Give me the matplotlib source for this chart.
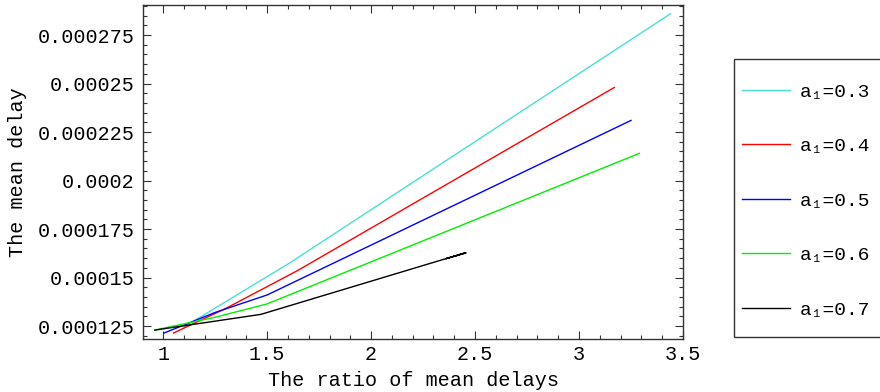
import matplotlib
matplotlib.use("Agg")
import matplotlib.pyplot as plt
from matplotlib.ticker import MultipleLocator, FuncFormatter
from matplotlib.lines import Line2D
from matplotlib.patches import Rectangle

# ratio of mean delays (x) and mean delay (y) for each a1
x_03 = [1.10, 1.61, 3.44]
y_03 = [0.0001245, 0.0001576, 0.000286]
x_04 = [1.05, 1.30, 1.645, 3.17]
y_04 = [0.0001214, 0.0001340, 0.0001535, 0.000248]
x_05 = [1.005, 1.25, 1.50, 3.25]
y_05 = [0.0001214, 0.0001320, 0.0001410, 0.000231]
x_06 = [0.96, 1.25, 1.50, 3.29]
y_06 = [0.0001229, 0.0001295, 0.0001364, 0.000214]
x_07 = [0.96, 1.47, 2.455, 2.36, 2.455]
y_07 = [0.0001229, 0.0001310, 0.0001628, 0.0001597, 0.0001626]

series = [
    (x_03, y_03, "#48e0d2", "a\u2081=0.3"),
    (x_04, y_04, "#ff0000", "a\u2081=0.4"),
    (x_05, y_05, "#0000ff", "a\u2081=0.5"),
    (x_06, y_06, "#00ee00", "a\u2081=0.6"),
    (x_07, y_07, "#000000", "a\u2081=0.7"),
]

mono = ["Liberation Mono", "DejaVu Sans Mono"]
plt.rcParams["font.family"] = mono

fig = plt.figure(figsize=(8.8, 3.92), dpi=100)
ax = fig.add_axes([143 / 880, 1 - 339 / 392, 540 / 880, 334 / 392])

for xs, ys, c, lab in series:
    ax.plot(xs, ys, color=c, linewidth=1.0)

ax.set_xlim(0.903, 3.5)
ax.set_ylim(0.0001183, 0.0002905)

ax.xaxis.set_major_locator(MultipleLocator(0.5))
ax.xaxis.set_minor_locator(MultipleLocator(0.1))
ax.yaxis.set_major_locator(MultipleLocator(0.000025))
ax.yaxis.set_minor_locator(MultipleLocator(0.000005))


def trim(v, pos):
    return f"{v:.6f}".rstrip("0").rstrip(".")


ax.xaxis.set_major_formatter(FuncFormatter(trim))
ax.yaxis.set_major_formatter(FuncFormatter(trim))

ax.tick_params(which="both", direction="in", top=True, right=True,
               labeltop=False, labelright=False, color="#333333", width=0.8)
ax.tick_params(which="major", length=6, labelsize=14.5)
ax.tick_params(axis="x", which="major", pad=4)
ax.tick_params(axis="y", which="major", pad=6)
ax.tick_params(which="minor", length=3)
for spine in ax.spines.values():
    spine.set_color("#333333")
    spine.set_linewidth(1.0)

ax.set_xlabel("The ratio of mean delays", fontsize=14.5, labelpad=5)
ax.set_ylabel("The mean delay", fontsize=14.5, labelpad=8)

# legend box (runs off the right edge)
fig.patches.append(Rectangle((734 / 880, 1 - 337 / 392), 0.3, 278 / 392,
                             transform=fig.transFigure, fill=False,
                             edgecolor="#333333", linewidth=1.0))
handles = [Line2D([0], [0], color=c, linewidth=1.0) for _, _, c, _ in series]
labels = [lab for _, _, _, lab in series]
fig.legend(handles, labels, loc="upper left",
           bbox_to_anchor=(742 / 880, 1 - 83 / 392), frameon=False,
           fontsize=14, handlelength=2.45, handletextpad=0.5,
           labelspacing=1.9, borderpad=0, borderaxespad=0)

fig.savefig("out.png", dpi=100, facecolor="white")
